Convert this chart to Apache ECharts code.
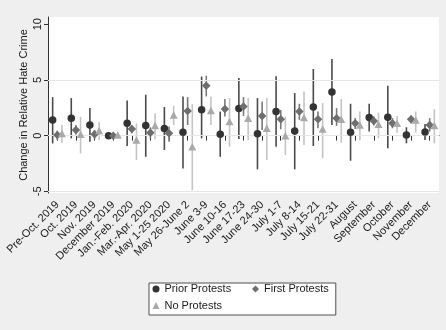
<!DOCTYPE html>
<html>
<head>
<meta charset="utf-8">
<script src="https://cdn.jsdelivr.net/npm/echarts@6/dist/echarts.min.js"></script>
<style>
html,body{margin:0;padding:0;background:#efefef;}
#chart{width:446px;height:330px;}
</style>
</head>
<body>
<div id="chart"></div>
<script>
var categories = ['Pre-Oct. 2019','Oct. 2019','Nov. 2019','December 2019','Jan.-Feb. 2020','Mar.-Apr. 2020','May 1-25 2020','May 26-June 2','June 3-9','June 10-16','June 17-23','June 24-30','July 1-7','July 8-14','July 15-21','July 22-31','August','September','October','November','December'];

var priorEst = [1.4,1.57,0.96,0.0,1.12,0.9,0.63,0.3,2.32,0.12,2.44,0.18,2.16,0.42,2.56,3.91,0.3,1.62,1.66,0.06,0.33];
var priorLo  = [-0.7,-0.24,-0.54,-0.08,-0.93,-1.9,-1.29,-2.94,-0.24,-1.9,-0.3,-3.03,-0.99,-3.03,-0.93,0.96,-2.25,0.36,-1.14,-0.69,-0.39];
var priorHi  = [3.46,3.37,2.47,0.08,3.15,3.67,2.56,3.51,5.3,2.16,5.17,3.37,5.32,3.82,5.98,6.88,2.86,2.86,4.48,0.75,1.05];

var firstEst = [0.06,0.5,0.12,0.0,0.6,0.27,0.21,2.22,4.48,2.4,2.61,1.77,1.47,2.16,1.47,1.57,1.12,1.32,1.12,1.47,0.96];
var firstLo  = [-0.4,0.1,-0.3,-0.08,0.2,-0.24,-0.54,0.96,3.52,1.71,1.77,0.51,0.57,1.41,0.66,0.87,0.6,0.9,0.66,1.1,0.36];
var firstHi  = [0.45,0.95,0.5,0.08,0.96,0.75,0.81,3.46,5.38,3.28,3.46,3.06,2.31,2.86,2.16,2.47,1.57,1.75,1.57,1.8,1.57];

var noEst = [0.2,0.12,0.45,0.05,-0.39,0.9,1.86,-0.99,2.25,1.26,1.57,0.66,0.0,1.62,0.6,1.47,0.96,1.03,1.12,1.41,0.9];
var noLo  = [-0.63,-1.6,-0.39,-0.05,-2.2,-0.33,0.96,-4.9,0.96,-0.99,-0.39,-2.19,-1.74,-0.84,-2.04,-0.63,-0.39,-0.24,0.27,0.27,-0.69];
var noHi  = [0.96,1.7,1.2,0.12,1.1,2.0,2.68,2.83,3.5,3.37,3.37,3.37,1.71,3.96,2.92,3.28,2.16,2.07,1.77,2.16,2.38];

var yTicks = [-5, 0, 5, 10];
var gridValues = [-5, 0, 5];

var FONT = "'Liberation Sans', Arial, sans-serif";

function ciData(lo, hi) {
  return lo.map(function (l, i) { return [i, l, hi[i]]; });
}
function ptData(est) {
  return est.map(function (v, i) { return [i, v]; });
}
function ciSeries(name, lo, hi, frac, color, extra) {
  var s = {
    type: 'custom',
    name: name,
    silent: true,
    z: 2,
    data: ciData(lo, hi),
    renderItem: function (params, api) {
      var idx = api.value(0);
      var band = api.size([1, 0])[0];
      var x = api.coord([idx, 0])[0] + band * frac;
      var y1 = api.coord([idx, api.value(1)])[1];
      var y2 = api.coord([idx, api.value(2)])[1];
      return {
        type: 'line',
        shape: { x1: x, y1: y1, x2: x, y2: y2 },
        style: { stroke: color, lineWidth: 1.6 }
      };
    }
  };
  if (extra) { for (var k in extra) s[k] = extra[k]; }
  return s;
}

var BAND_OFF = 4.65;

var option = {
  backgroundColor: '#efefef',
  animation: false,
  textStyle: { fontFamily: FONT },
  grid: {
    left: 48, right: 7, top: 17, bottom: 137,
    show: true, backgroundColor: '#ffffff', borderWidth: 0,
    containLabel: false
  },
  legend: {
    left: 149, top: 283,
    width: 183,
    orient: 'horizontal',
    backgroundColor: '#ffffff',
    borderColor: '#505050',
    borderWidth: 1,
    borderRadius: 0,
    padding: [0, 7, 3.5, 3.5],
    itemGap: 4.5,
    itemWidth: 7, itemHeight: 7,
    itemStyle: { borderWidth: 0 },
    textStyle: { fontFamily: FONT, fontSize: 11, color: '#1a1a1a', lineHeight: 12 },
    data: [
      { name: 'Prior Protests', icon: 'circle', textStyle: { width: 83 } },
      { name: 'First Protests', icon: 'diamond' },
      { name: 'No Protests', icon: 'triangle' }
    ]
  },
  xAxis: {
    type: 'category',
    data: categories,
    boundaryGap: true,
    offset: 5,
    axisLine: { show: true, lineStyle: { color: '#333333', width: 1 } },
    axisTick: { show: true, alignWithLabel: true, length: 5, lineStyle: { color: '#333333' } },
    axisLabel: {
      interval: 0, rotate: 45, fontSize: 11, color: '#1a1a1a', margin: 5,
      fontFamily: FONT
    },
    splitLine: { show: false }
  },
  yAxis: {
    type: 'value',
    min: -5.15, max: 10.65,
    name: 'Change in Relative Hate Crime',
    nameLocation: 'middle',
    nameGap: 18.5,
    nameMoveOverlap: false,
    nameTextStyle: { fontSize: 11, color: '#1a1a1a', fontFamily: FONT },
    axisLine: { show: true, lineStyle: { color: '#333333', width: 1 } },
    axisTick: { show: true, length: 4, customValues: yTicks, lineStyle: { color: '#333333' } },
    axisLabel: { rotate: 90, fontSize: 11, color: '#1a1a1a', margin: 5, customValues: yTicks, fontFamily: FONT },
    splitLine: { show: false }
  },
  series: [
    ciSeries('gridlines', [], [], 0, '#000', {
      markLine: {
        silent: true,
        symbol: 'none',
        label: { show: false },
        lineStyle: { color: '#e6e6e6', width: 1, type: 'solid' },
        data: gridValues.map(function (v) { return { yAxis: v }; })
      },
      z: 1
    }),
    ciSeries('priorCI', priorLo, priorHi, -0.25, '#4a4a4a'),
    ciSeries('firstCI', firstLo, firstHi, 0, '#7a7a7a'),
    ciSeries('noCI', noLo, noHi, 0.25, '#c4c4c4'),
    {
      type: 'scatter', name: 'Prior Protests', z: 5,
      symbol: 'circle', symbolSize: 7.5, symbolOffset: [-BAND_OFF, 0],
      itemStyle: { color: '#333333', opacity: 1 },
      data: ptData(priorEst)
    },
    {
      type: 'scatter', name: 'First Protests', z: 5,
      symbol: 'diamond', symbolSize: [8.5, 8.5], symbolOffset: [0, 0],
      itemStyle: { color: '#6e6e6e', opacity: 1 },
      data: ptData(firstEst)
    },
    {
      type: 'scatter', name: 'No Protests', z: 5,
      symbol: 'triangle', symbolSize: [8, 7.5], symbolOffset: [BAND_OFF, 0],
      itemStyle: { color: '#a9a9a9', opacity: 1 },
      data: ptData(noEst)
    }
  ]
};

var chart = echarts.init(document.getElementById('chart'), null, { renderer: 'canvas' });
chart.setOption(option);
</script>
</body>
</html>
